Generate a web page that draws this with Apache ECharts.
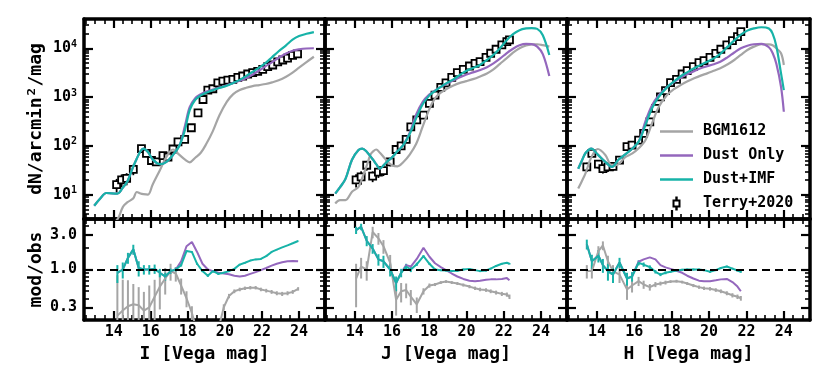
<!DOCTYPE html>
<html>
<head>
<meta charset="utf-8">
<script src="https://cdn.jsdelivr.net/npm/echarts@6.0.0/dist/echarts.min.js"></script>
<style>
  html, body { margin: 0; background: #fff; }
  #chart { width: 830px; height: 388px; }
</style>
</head>
<body>
<div id="chart"></div>
<script>
const FONT = "DejaVu Sans Mono";
const GRAY = "#a5a5a5";
const PURPLE = "#9467bd";
const TEAL = "#17b3a8";

// ---- I band: model curves (dN/arcmin^2/mag)
const iModelMag = [12.95, 13.3, 13.6, 14.2, 14.5, 14.75, 15.05, 15.25, 15.45, 15.6, 15.85, 16.1, 16.5, 16.85, 17.2, 17.55, 17.85, 18.1, 18.4, 18.7, 19.0, 19.35, 19.7, 20.1, 20.45, 20.8, 21.15, 21.5, 21.85, 22.2, 22.55, 22.9, 23.3, 23.65, 24.0, 24.4, 24.8];
const iBgm = [1, 1.5, 2, 3.1, 5.6, 7, 8.3, 11.3, 10.5, 10.2, 10, 16, 32, 60, 84, 65, 52, 46, 57, 72, 110, 200, 420, 800, 1150, 1390, 1550, 1680, 1760, 1850, 2000, 2200, 2600, 3160, 4000, 5200, 6700];
const iDust = [5.9, 8.5, 10.8, 10.5, 14, 19, 37, 55, 78, 88, 75, 53, 42, 47, 65, 102, 260, 620, 950, 1150, 1290, 1420, 1560, 1750, 1950, 2150, 2450, 2900, 3500, 4300, 5200, 6400, 7800, 8900, 9500, 9900, 10000];
const iDustImf = [5.9, 8.5, 10.8, 10.5, 14, 19, 37, 55, 78, 88, 75, 53, 42, 47, 65, 102, 215, 540, 880, 1080, 1230, 1380, 1530, 1700, 1950, 2250, 2700, 3300, 4000, 5000, 6600, 8700, 11500, 15000, 17800, 19800, 21500];
// I band: observed counts
const iObsMag = [14.16, 14.43, 14.7, 15.06, 15.5, 15.77, 16.04, 16.3, 16.66, 16.93, 17.2, 17.47, 17.83, 18.19, 18.55, 18.82, 19.08, 19.35, 19.62, 19.89, 20.16, 20.43, 20.7, 20.96, 21.23, 21.5, 21.77, 22.04, 22.31, 22.58, 22.85, 23.12, 23.38, 23.65, 23.92];
const iObs = [16, 20, 21.5, 33, 88, 70, 50, 47, 63, 59, 86, 120, 135, 235, 475, 890, 1390, 1480, 1960, 2130, 2230, 2310, 2530, 2700, 2970, 3160, 3370, 3700, 4190, 4540, 5240, 5750, 6300, 7180, 7640];
const iObsErr = [5, 6, 6, 8, 14, 11, 8, 7, 8, 7, 9, 11, 12, 16, 25, 40, 55, 55, 65, 70, 70, 70, 75, 75, 80, 85, 90, 95, 100, 110, 120, 130, 140, 150, 160];
// I band: model / observed
const iRatioMag = [14.2, 14.49, 14.77, 15.06, 15.35, 15.63, 15.92, 16.21, 16.49, 16.78, 17.07, 17.35, 17.64, 17.93, 18.22, 18.5, 18.79, 19.08, 19.36, 19.65, 19.94, 20.22, 20.51, 20.8, 21.08, 21.37, 21.66, 21.94, 22.23, 22.52, 22.8, 23.09, 23.38, 23.66, 23.95];
const iRatioBgm = [0.23, 0.27, 0.31, 0.33, 0.32, 0.27, 0.3, 0.42, 0.58, 0.75, 0.95, 0.88, 0.6, 0.4, 0.25, 0.14, 0.08, 0.07, 0.08, 0.15, 0.3, 0.43, 0.5, 0.53, 0.55, 0.56, 0.56, 0.53, 0.51, 0.49, 0.47, 0.46, 0.47, 0.49, 0.54];
const iRatioBgmErr = [0.6, 0.45, 0.4, 0.3, 0.25, 0.22, 0.3, 0.3, 0.3, 0.3, 0.25, 0.2, 0.15, 0.1, 0.06, 0.04, 0.03, 0.03, 0.03, 0.03, 0.03, 0.03, 0.03, 0.03, 0.03, 0.03, 0.03, 0.03, 0.03, 0.03, 0.03, 0.03, 0.03, 0.03, 0.03];
const iRatioDust = [0.9, 1.0, 1.45, 1.9, 1.05, 1.0, 1.0, 1.02, 0.9, 0.8, 0.95, 1.0, 1.3, 2.1, 2.4, 1.75, 1.2, 1.0, 0.95, 0.9, 0.88, 0.86, 0.82, 0.8, 0.82, 0.87, 0.92, 0.98, 1.05, 1.13, 1.2, 1.26, 1.3, 1.31, 1.3];
const iRatioImf = [0.9, 1.0, 1.45, 1.9, 1.05, 1.0, 1.0, 1.02, 0.9, 0.8, 0.95, 1.0, 1.15, 1.8, 1.75, 1.2, 0.95, 0.82, 0.95, 0.87, 0.9, 0.95, 1.02, 1.17, 1.24, 1.33, 1.38, 1.4, 1.53, 1.75, 1.88, 2.02, 2.16, 2.31, 2.48];
const iRatioImfErr = [0.25, 0.25, 0.25, 0.3, 0.25, 0.15, 0.15, 0.15, 0.12, 0.1, 0.08, 0.06, 0.05, 0.05, 0.04, 0.04, 0.03, 0.03, 0.03, 0.03, 0.03, 0.03, 0.03, 0.03, 0.03, 0.03, 0.03, 0.03, 0.03, 0.03, 0.03, 0.03, 0.03, 0.03, 0.03];

// ---- J band
const jModelMag = [12.95, 13.2, 13.5, 13.85, 14.2, 14.4, 14.65, 14.85, 15.0, 15.15, 15.35, 15.55, 15.75, 16.0, 16.3, 16.6, 16.95, 17.3, 17.65, 18.0, 18.3, 18.6, 18.95, 19.3, 19.65, 20.0, 20.35, 20.7, 21.1, 21.45, 21.8, 22.15, 22.5, 22.85, 23.2, 23.5, 23.8, 24.1, 24.45];
const jBgm = [6.6, 7.7, 7.7, 11.4, 14.4, 22, 40, 67, 78, 84, 72, 59, 48, 40, 38, 46, 66, 110, 250, 560, 930, 1220, 1480, 1720, 1950, 2120, 2330, 2620, 3050, 3700, 4800, 6200, 8100, 10000, 11400, 12000, 12100, 11600, 10800];
const jDust = [10.5, 14, 21, 52, 82, 88, 75, 60, 51, 42, 34, 40, 48, 58, 78, 103, 185, 440, 800, 1120, 1350, 1600, 1900, 2200, 2550, 2900, 3200, 3550, 4100, 4900, 6100, 7900, 9800, 11500, 12300, 12200, 10800, 7600, 2700];
const jDustImf = [10.5, 14, 21, 52, 82, 88, 75, 60, 51, 42, 34, 40, 48, 58, 78, 103, 175, 370, 710, 1070, 1330, 1600, 1950, 2310, 2850, 3470, 3950, 4500, 5750, 7300, 10000, 14500, 19500, 23500, 25500, 26000, 25000, 18500, 7300];
const jObsMag = [14.07, 14.34, 14.64, 14.96, 15.27, 15.54, 15.9, 16.22, 16.49, 16.76, 17.01, 17.33, 17.69, 18.01, 18.31, 18.62, 18.9, 19.21, 19.51, 19.83, 20.16, 20.46, 20.73, 21.05, 21.3, 21.59, 21.9, 22.17, 22.31];
const jObs = [20, 23, 40, 24, 29, 31, 47, 84, 100, 135, 245, 340, 425, 740, 1100, 1580, 1960, 2530, 3160, 3700, 4330, 4900, 5300, 6530, 7900, 9540, 11700, 13700, 14800];
const jObsErr = [6, 7, 9, 6, 7, 7, 9, 12, 13, 15, 22, 26, 30, 40, 50, 60, 65, 75, 80, 90, 95, 100, 105, 115, 125, 140, 150, 165, 170];
const jRatioMag = jObsMag;
const jRatioBgm = [0.75, 1.1, 1.0, 3.3, 2.7, 2.1, 1.24, 0.38, 0.5, 0.52, 0.42, 0.33, 0.5, 0.6, 0.62, 0.66, 0.68, 0.66, 0.64, 0.61, 0.58, 0.55, 0.53, 0.52, 0.5, 0.48, 0.46, 0.45, 0.42];
const jRatioBgmErr = [0.45, 0.35, 0.3, 0.6, 0.5, 0.45, 0.35, 0.15, 0.15, 0.12, 0.1, 0.08, 0.05, 0.04, 0.03, 0.03, 0.03, 0.03, 0.03, 0.03, 0.03, 0.03, 0.03, 0.03, 0.03, 0.03, 0.03, 0.03, 0.03];
const jRatioDust = [3.5, 3.9, 2.5, 1.95, 1.38, 1.3, 1.0, 0.65, 0.9, 1.15, 1.1, 1.4, 2.0, 1.5, 1.22, 1.08, 0.98, 0.88, 0.8, 0.74, 0.7, 0.69, 0.7, 0.72, 0.73, 0.73, 0.74, 0.76, 0.71];
const jRatioImf = [3.5, 3.9, 2.5, 1.95, 1.38, 1.3, 1.0, 0.65, 0.9, 1.1, 1.0, 1.18, 1.53, 1.2, 1.0, 0.98, 0.97, 0.95, 0.96, 1.0, 1.02, 0.98, 0.95, 0.97, 1.03, 1.12, 1.2, 1.24, 1.2];
const jRatioImfErr = [0.4, 0.4, 0.4, 0.3, 0.25, 0.25, 0.2, 0.15, 0.12, 0.1, 0.08, 0.06, 0.05, 0.04, 0.04, 0.03, 0.03, 0.03, 0.03, 0.03, 0.03, 0.03, 0.03, 0.03, 0.03, 0.03, 0.03, 0.03, 0.03];

// ---- H band
const hModelMag = [13.0, 13.2, 13.4, 13.7, 14.05, 14.45, 14.8, 15.15, 15.5, 15.9, 16.25, 16.6, 16.95, 17.3, 17.75, 18.1, 18.5, 18.85, 19.2, 19.55, 19.9, 20.25, 20.6, 21.0, 21.35, 21.7, 22.05, 22.4, 22.8, 23.2, 23.4, 23.6, 23.85, 24.0];
const hBgm = [13.3, 19, 28, 58, 86, 65, 40, 42, 58, 70, 90, 132, 290, 620, 1100, 1430, 1780, 2100, 2420, 2750, 3060, 3450, 3900, 4700, 5750, 7300, 9200, 10800, 12100, 12000, 11500, 10000, 7900, 4540];
const hDust = [34, 50, 72, 88, 66, 47, 37, 52, 66, 88, 125, 320, 680, 1080, 1600, 2000, 2500, 2950, 3400, 3900, 4300, 4700, 5300, 6600, 8200, 10000, 11300, 12100, 12300, 10500, 8000, 4800, 1620, 500];
const hDustImf = [34, 50, 72, 88, 66, 47, 37, 52, 66, 88, 125, 270, 590, 1000, 1580, 2050, 2700, 3250, 3900, 4550, 5300, 6200, 7700, 10800, 14500, 19000, 23000, 25500, 27000, 25500, 20000, 11000, 3060, 1390];
const hObsMag = [13.46, 13.73, 14.08, 14.32, 14.59, 14.86, 15.21, 15.61, 15.88, 16.23, 16.5, 16.83, 17.13, 17.4, 17.67, 17.94, 18.26, 18.56, 18.83, 19.16, 19.46, 19.73, 20.05, 20.36, 20.63, 20.95, 21.25, 21.52, 21.7];
const hObs = [37, 70, 42, 34, 37, 38, 51, 96, 103, 131, 180, 311, 586, 1010, 1350, 1970, 2310, 2970, 3470, 4190, 5060, 5560, 6530, 7890, 9540, 11700, 14300, 17300, 21900];
const hObsErr = [8, 11, 8, 7, 8, 8, 9, 13, 13, 15, 18, 25, 35, 45, 50, 60, 65, 75, 80, 90, 95, 100, 110, 120, 130, 145, 160, 175, 195];
const hRatioMag = hObsMag;
const hRatioBgm = [0.95, 0.95, 1.8, 2.15, 1.3, 0.95, 0.85, 0.53, 0.6, 0.69, 0.62, 0.57, 0.62, 0.64, 0.66, 0.68, 0.69, 0.67, 0.64, 0.6, 0.57, 0.55, 0.54, 0.52, 0.5, 0.47, 0.44, 0.42, 0.4];
const hRatioBgmErr = [0.2, 0.2, 0.3, 0.3, 0.25, 0.2, 0.2, 0.15, 0.12, 0.1, 0.08, 0.06, 0.05, 0.04, 0.04, 0.03, 0.03, 0.03, 0.03, 0.03, 0.03, 0.03, 0.03, 0.03, 0.03, 0.03, 0.03, 0.03, 0.03];
const hRatioDust = [2.24, 1.3, 1.55, 1.15, 0.95, 0.85, 1.25, 0.75, 0.8, 1.28, 1.38, 1.47, 1.38, 1.15, 1.07, 1.02, 0.96, 0.9, 0.82, 0.75, 0.7, 0.69, 0.69, 0.71, 0.73, 0.74, 0.67, 0.58, 0.5];
const hRatioImf = [2.24, 1.3, 1.55, 1.15, 0.95, 0.85, 1.25, 0.75, 0.8, 1.24, 1.17, 1.08, 0.93, 0.85, 0.9, 0.93, 0.97, 0.99, 1.0, 1.0, 1.0, 0.98, 0.93, 0.98, 1.05, 1.1, 1.03, 0.97, 0.93];
const hRatioImfErr = [0.35, 0.3, 0.3, 0.25, 0.25, 0.2, 0.2, 0.15, 0.12, 0.1, 0.08, 0.06, 0.05, 0.04, 0.04, 0.03, 0.03, 0.03, 0.03, 0.03, 0.03, 0.03, 0.03, 0.03, 0.03, 0.03, 0.03, 0.03, 0.03];

// ---- axis ticks and labels
const xTitles = ["I [Vega mag]", "J [Vega mag]", "H [Vega mag]"];
const xMajor = [14, 16, 18, 20, 22, 24];
const nMajor = [10, 100, 1000, 10000];
const rMajor = [0.3, 1, 3];

const X_MIN = 12.4, X_MAX = 25.4;
const N_MIN = Math.pow(10, 0.5), N_MAX = Math.pow(10, 4.6);
const R_MIN = 0.2, R_MAX = 5;

const xMinor = [];
for (let v = 12.5; v <= 25.25; v += 0.5) xMinor.push(v);
const nMinor = [];
[1, 10, 100, 1000, 10000].forEach(d => {
	for (let k = 2; k <= 9; k++) {
		const v = k * d;
		if (v > N_MIN && v < N_MAX) nMinor.push(v);
	}
});
const rMinor = [];
[0.1, 1].forEach(d => {
	for (let k = 2; k <= 9; k++) {
		const v = Math.round(k * d * 10) / 10;
		if (v >= R_MIN && v <= R_MAX) rMinor.push(v);
	}
});

const bands = [
	{ modelMag: iModelMag, bgm: iBgm, dust: iDust, imf: iDustImf, obsMag: iObsMag, obs: iObs, obsErr: iObsErr,
	  rMag: iRatioMag, rBgm: iRatioBgm, rBgmErr: iRatioBgmErr, rDust: iRatioDust, rImf: iRatioImf, rImfErr: iRatioImfErr },
	{ modelMag: jModelMag, bgm: jBgm, dust: jDust, imf: jDustImf, obsMag: jObsMag, obs: jObs, obsErr: jObsErr,
	  rMag: jRatioMag, rBgm: jRatioBgm, rBgmErr: jRatioBgmErr, rDust: jRatioDust, rImf: jRatioImf, rImfErr: jRatioImfErr },
	{ modelMag: hModelMag, bgm: hBgm, dust: hDust, imf: hDustImf, obsMag: hObsMag, obs: hObs, obsErr: hObsErr,
	  rMag: hRatioMag, rBgm: hRatioBgm, rBgmErr: hRatioBgmErr, rDust: hRatioDust, rImf: hRatioImf, rImfErr: hRatioImfErr },
];

const cols = [{ left: 84, width: 241 }, { left: 325, width: 242 }, { left: 567, width: 243 }];
const rows = [{ top: 19, height: 200 }, { top: 219, height: 101 }];

const labelText = { color: "#000", fontFamily: FONT, fontWeight: "bold", fontSize: 15 };
const titleText = { color: "#000", fontFamily: FONT, fontWeight: "bold", fontSize: 18 };
const spine = { show: true, onZero: false, lineStyle: { color: "#000", width: 3.5 } };
const noLine = { show: false };

function tick(values, length, width) {
	return { show: true, inside: true, customValues: values, length, lineStyle: { color: "#000", width } };
}

const grid = [];
const xAxis = [];
const yAxis = [];
const series = [];

for (let r = 0; r < 2; r++) {
	for (let c = 0; c < 3; c++) {
		const gi = r * 3 + c;
		grid.push({ left: cols[c].left, width: cols[c].width, top: rows[r].top, height: rows[r].height, outerBoundsMode: "none" });

		const xb = { type: "value", gridIndex: gi, min: X_MIN, max: X_MAX, splitLine: { show: false }, axisLabel: { show: false } };
		const bottomMajor = { ...xb, position: "bottom", axisLine: spine, axisTick: tick(xMajor, 9, 2.2) };
		if (r === 1) {
			bottomMajor.axisLabel = { show: true, customValues: xMajor, margin: 5, ...labelText };
			bottomMajor.name = xTitles[c];
			bottomMajor.nameLocation = "middle";
			bottomMajor.nameGap = 25;
			bottomMajor.nameTextStyle = titleText;
		}
		// order matters: echarts flips a second axis on an already used side
		xAxis.push(
			bottomMajor,
			{ ...xb, position: "top", axisLine: spine, axisTick: tick(xMajor, 9, 2.2) },
			{ ...xb, position: "bottom", axisLine: noLine, axisTick: tick(xMinor, 5, 1.6) },
			{ ...xb, position: "top", axisLine: noLine, axisTick: tick(xMinor, 5, 1.6) }
		);

		const top = r === 0;
		const yb = { type: "log", logBase: 10, gridIndex: gi, min: top ? N_MIN : R_MIN, max: top ? N_MAX : R_MAX,
			splitLine: { show: false }, axisLabel: { show: false } };
		const major = top ? nMajor : rMajor;
		const minor = top ? nMinor : rMinor;
		const leftMajor = { ...yb, position: "left", axisLine: spine, axisTick: tick(major, 9, 2.2) };
		if (c === 0) {
			leftMajor.axisLabel = top
				? { show: true, customValues: nMajor, margin: 7, ...labelText,
					formatter: v => "10{s|" + Math.round(Math.log10(v)) + "}",
					rich: { s: { ...labelText, fontSize: 10, padding: [0, 0, 8, 0] } } }
				: { show: true, customValues: rMajor, margin: 7, ...labelText, formatter: v => v.toFixed(1) };
			leftMajor.name = top ? "dN/arcmin²/mag" : "mod/obs";
			leftMajor.nameLocation = "middle";
			leftMajor.nameRotate = 90;
			leftMajor.nameGap = 39;
			leftMajor.nameTextStyle = titleText;
		}
		yAxis.push(
			leftMajor,
			{ ...yb, position: "right", axisLine: spine, axisTick: tick(major, 9, 2.2) },
			{ ...yb, position: "left", axisLine: noLine, axisTick: tick(minor, 5, 1.6) },
			{ ...yb, position: "right", axisLine: noLine, axisTick: tick(minor, 5, 1.6) }
		);
	}
}

function pairs(xs, ys) {
	return xs.map((x, i) => [x, ys[i]]);
}

function curve(gi, name, xs, ys, color, smooth, width) {
	return {
		type: "line", name, xAxisIndex: gi * 4, yAxisIndex: gi * 4, data: pairs(xs, ys),
		color, symbol: "none", smooth, lineStyle: { color, width }, silent: true,
	};
}

function errorBars(gi, xs, ys, errs, color, width) {
	return {
		type: "custom", xAxisIndex: gi * 4, yAxisIndex: gi * 4, silent: true, clip: true,
		data: xs.map((x, i) => [x, ys[i], errs[i]]),
		encode: { x: 0, y: 1 },
		renderItem: (params, api) => {
			const x = api.value(0), y = api.value(1), e = api.value(2);
			const lo = api.coord([x, Math.max(y - e, 1e-4)]);
			const hi = api.coord([x, y + e]);
			return { type: "line", shape: { x1: lo[0], y1: lo[1], x2: hi[0], y2: hi[1] }, style: { stroke: color, lineWidth: width } };
		},
	};
}

bands.forEach((b, c) => {
	const gt = c, gb = c + 3;
	series.push(
		curve(gt, "BGM1612", b.modelMag, b.bgm, GRAY, 0.35, 2.2),
		curve(gt, "Dust Only", b.modelMag, b.dust, PURPLE, 0.35, 2.2),
		curve(gt, "Dust+IMF", b.modelMag, b.imf, TEAL, 0.35, 2.2),
		errorBars(gt, b.obsMag, b.obs, b.obsErr, "#000", 1.8),
		{
			type: "scatter", name: "Terry+2020", xAxisIndex: gt * 4, yAxisIndex: gt * 4,
			data: pairs(b.obsMag, b.obs), symbol: "rect", symbolSize: 7, silent: true,
			itemStyle: { color: "#fff", borderColor: "#000", borderWidth: 1.8, opacity: 1 },
		}
	);
	const gray = curve(gb, "BGM1612", b.rMag, b.rBgm, GRAY, false, 2);
	gray.markLine = {
		silent: true, symbol: ["none", "none"], label: { show: false },
		lineStyle: { color: "#000", type: [8, 5], width: 2 },
		data: [{ yAxis: 1 }],
	};
	series.push(
		gray,
		errorBars(gb, b.rMag, b.rBgm, b.rBgmErr, GRAY, 2),
		curve(gb, "Dust Only", b.rMag, b.rDust, PURPLE, false, 2),
		curve(gb, "Dust+IMF", b.rMag, b.rImf, TEAL, false, 2),
		errorBars(gb, b.rMag, b.rImf, b.rImfErr, TEAL, 2)
	);
});

const LINE_ICON = "path://M0,0 H33 V2.4 H0 Z";
const OBS_ICON = "path://M2.8,0 H5.2 V3 H8 V11 H5.2 V14 H2.8 V11 H0 V3 H2.8 Z M2,5 V9 H6 V5 Z";

const option = {
	animation: false,
	backgroundColor: "#fff",
	grid,
	xAxis,
	yAxis,
	legend: {
		orient: "vertical", left: 655, top: 119, itemWidth: 33, itemHeight: 14, itemGap: 9,
		selectedMode: false,
		textStyle: { ...labelText, padding: [0, 0, 0, 5] },
		data: [
			{ name: "BGM1612", icon: LINE_ICON, itemStyle: { color: GRAY, borderWidth: 0, opacity: 1 } },
			{ name: "Dust Only", icon: LINE_ICON, itemStyle: { color: PURPLE, borderWidth: 0, opacity: 1 } },
			{ name: "Dust+IMF", icon: LINE_ICON, itemStyle: { color: TEAL, borderWidth: 0, opacity: 1 } },
			{ name: "Terry+2020", icon: OBS_ICON, itemStyle: { color: "#000", borderColor: "#000", borderWidth: 0, opacity: 1 } },
		],
	},
	series,
};

const chart = echarts.init(document.getElementById("chart"));
chart.setOption(option);
</script>
</body>
</html>
